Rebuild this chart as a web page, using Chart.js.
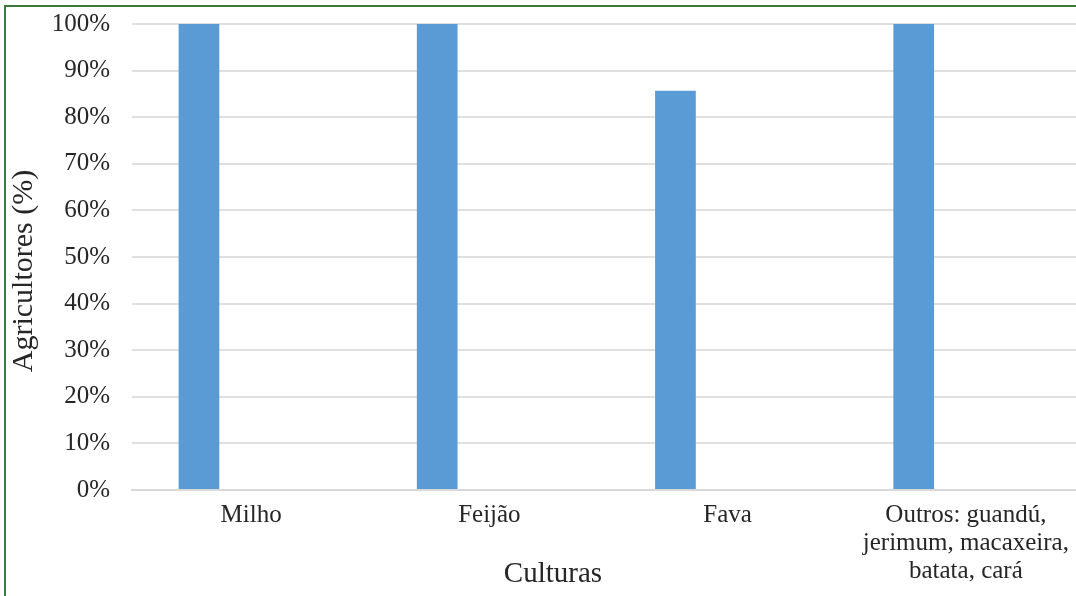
<!DOCTYPE html>
<html>
<head>
<meta charset="utf-8">
<script src="https://cdn.jsdelivr.net/npm/chart.js@4.4.1/dist/chart.umd.min.js"></script>
<style>
  html, body { margin: 0; padding: 0; background: #ffffff; overflow: hidden; width: 1076px; height: 596px; }
  #frame { position: absolute; left: 4px; top: 5px; width: 1200px; height: 800px; border: 2px solid #3b7a3b; box-sizing: border-box; }
  #wrap { position: absolute; left: 0; top: -13px; width: 1100px; height: 609px; }
</style>
</head>
<body>
<div id="frame"></div>
<div id="wrap"><canvas id="chart" width="1100" height="609"></canvas></div>
<script>
// Crop categories and the share of farmers growing each one (%)
const categories = [
  'Milho',
  'Feijão',
  'Fava',
  ['Outros: guandú,', 'jerimum, macaxeira,', 'batata, cará']
];
const farmersPct = [100, 100, 85.7, 100];
const emptySeries = [null, null, null, null];
const yTickLabels = ['0%', '10%', '20%', '30%', '40%', '50%', '60%', '70%', '80%', '90%', '100%'];

const xTitle = 'Culturas';
const yTitle = 'Agricultores (%)';

const textColor = '#262626';
const serif = '"Liberation Serif", "Times New Roman", serif';

// Axis titles drawn relative to the chart area
const axisTitles = {
  id: 'axisTitles',
  afterDraw(chart) {
    const { ctx, chartArea } = chart;
    ctx.save();
    ctx.fillStyle = textColor;
    ctx.textAlign = 'center';
    ctx.textBaseline = 'middle';
    ctx.font = '29px ' + serif;
    ctx.fillText(xTitle, chartArea.left + 421, chartArea.bottom + 84);
    ctx.translate(24, (chartArea.top + chartArea.bottom) / 2 + 14);
    ctx.rotate(-Math.PI / 2);
    ctx.font = '30px ' + serif;
    ctx.fillText(yTitle, 0, 0);
    ctx.restore();
  }
};

new Chart(document.getElementById('chart'), {
  type: 'bar',
  data: {
    labels: categories,
    datasets: [
      { data: farmersPct, backgroundColor: '#5b9bd5', borderWidth: 0 },
      { data: emptySeries, backgroundColor: '#ed7d31', borderWidth: 0 }
    ]
  },
  options: {
    responsive: false,
    animation: false,
    events: [],
    layout: { padding: { top: 11, right: 15, bottom: 0, left: 0 } },
    datasets: { bar: { categoryPercentage: 0.876, barPercentage: 0.39 } },
    plugins: { legend: { display: false }, tooltip: { enabled: false }, title: { display: false } },
    scales: {
      x: {
        grid: { display: false, drawTicks: false },
        border: { display: true, color: '#d9d9d9', width: 2 },
        ticks: {
          color: textColor,
          font: { family: serif, size: 25, lineHeight: 1.12 },
          padding: 11,
          maxRotation: 0,
          minRotation: 0,
          autoSkip: false
        },
        afterFit(scale) { scale.height = 106; }
      },
      y: {
        min: 0,
        max: 100,
        grid: { color: '#e0e0e0', lineWidth: 2, drawTicks: false },
        border: { display: false },
        ticks: {
          stepSize: 10,
          color: textColor,
          font: { family: serif, size: 25 },
          padding: 22,
          callback: (v) => yTickLabels[Math.round(v / 10)]
        },
        afterFit(scale) { scale.width = 132; }
      }
    }
  },
  plugins: [axisTitles]
});
</script>
</body>
</html>
